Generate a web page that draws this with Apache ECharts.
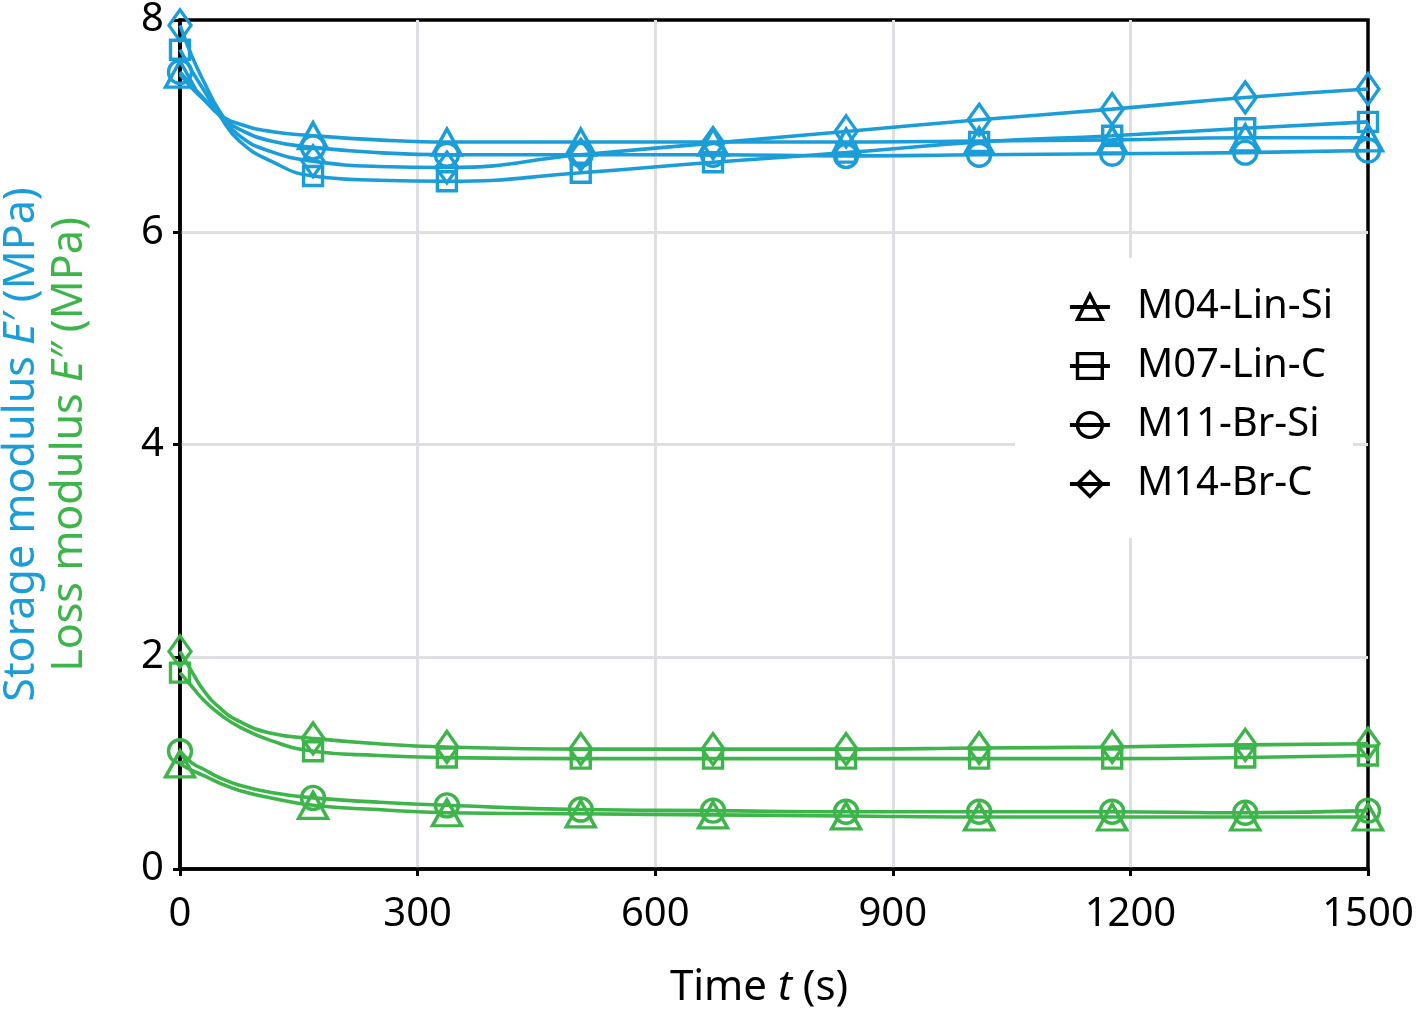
<!DOCTYPE html>
<html>
<head>
<meta charset="utf-8">
<script src="https://cdn.jsdelivr.net/npm/echarts@6/dist/echarts.min.js"></script>
<style>
html,body{margin:0;padding:0;background:#fff;}
#chart{width:1416px;height:1015px;}
</style>
</head>
<body>
<div id="chart"></div>
<script>
// ---- data ----
const markerTimes = [0, 168, 337, 506, 673, 841, 1009, 1177, 1345, 1500];
const curveTimes = [15, 30, 50, 75, 115, 250];
const xTicks = [0, 300, 600, 900, 1200, 1500];
const yTicks = [0, 2, 4, 6, 8];
const seriesNames = ['M04-Lin-Si', 'M07-Lin-C', 'M11-Br-Si', 'M14-Br-C'];

// storage modulus E' (MPa)
const storageM04 = [7.49, 6.91, 6.85, 6.85, 6.85, 6.85, 6.86, 6.87, 6.89, 6.89];
const storageM07 = [7.72, 6.53, 6.48, 6.56, 6.66, 6.75, 6.85, 6.91, 6.98, 7.04];
const storageM11 = [7.51, 6.80, 6.73, 6.73, 6.73, 6.72, 6.73, 6.74, 6.75, 6.77];
const storageM14 = [7.95, 6.67, 6.61, 6.73, 6.84, 6.95, 7.06, 7.16, 7.27, 7.35];
const storageM04Curve = [7.36, 7.25, 7.11, 7.02, 6.95, 6.87];
const storageM07Curve = [7.52, 7.34, 7.10, 6.86, 6.67, 6.49];
const storageM11Curve = [7.38, 7.26, 7.10, 6.97, 6.86, 6.75];
const storageM14Curve = [7.66, 7.42, 7.14, 6.91, 6.76, 6.62];

// loss modulus E" (MPa)
const lossM04 = [0.99, 0.60, 0.53, 0.52, 0.51, 0.50, 0.49, 0.49, 0.49, 0.49];
const lossM07 = [1.85, 1.11, 1.05, 1.04, 1.04, 1.04, 1.04, 1.04, 1.05, 1.07];
const lossM11 = [1.11, 0.67, 0.60, 0.56, 0.55, 0.54, 0.54, 0.54, 0.53, 0.55];
const lossM14 = [2.05, 1.23, 1.15, 1.13, 1.13, 1.13, 1.14, 1.15, 1.17, 1.18];
const lossM04Curve = [0.93, 0.88, 0.81, 0.74, 0.67, 0.56];
const lossM07Curve = [1.72, 1.59, 1.46, 1.34, 1.21, 1.07];
const lossM11Curve = [1.00, 0.94, 0.86, 0.79, 0.72, 0.63];
const lossM14Curve = [1.86, 1.68, 1.52, 1.39, 1.28, 1.18];

// ---- styling ----
const BLUE = '#1b9dd9';
const GREEN = '#3db54a';
const FONT = 'Noto Sans';
const symbols = {
  'M04-Lin-Si': {symbol: 'triangle', size: [29, 26]},
  'M07-Lin-C': {symbol: 'rect', size: [19, 19]},
  'M11-Br-Si': {symbol: 'circle', size: 23},
  'M14-Br-C': {symbol: 'diamond', size: [22, 31]}
};

function buildData(markerVals, curveVals) {
  const pts = markerTimes.map((t, i) => ({value: [t, markerVals[i]]}));
  curveTimes.forEach((t, i) => pts.push({value: [t, curveVals[i]], symbol: 'none'}));
  pts.sort((a, b) => a.value[0] - b.value[0]);
  return pts;
}

function mkSeries(name, color, markers, curve) {
  const s = symbols[name];
  return {
    type: 'line',
    name: name,
    data: buildData(markers, curve),
    smooth: 0.5,
    showAllSymbol: true,
    symbol: s.symbol,
    symbolSize: s.size,
    lineStyle: {color: color, width: 3.6},
    itemStyle: {color: 'rgba(0,0,0,0)', borderColor: color, borderWidth: 3.4},
    emphasis: {disabled: true},
    z: 3
  };
}

const series = [
  mkSeries('M04-Lin-Si', BLUE, storageM04, storageM04Curve),
  mkSeries('M07-Lin-C', BLUE, storageM07, storageM07Curve),
  mkSeries('M11-Br-Si', BLUE, storageM11, storageM11Curve),
  mkSeries('M14-Br-C', BLUE, storageM14, storageM14Curve),
  mkSeries('M04-Lin-Si', GREEN, lossM04, lossM04Curve),
  mkSeries('M07-Lin-C', GREEN, lossM07, lossM07Curve),
  mkSeries('M11-Br-Si', GREEN, lossM11, lossM11Curve),
  mkSeries('M14-Br-C', GREEN, lossM14, lossM14Curve)
];

const chart = echarts.init(document.getElementById('chart'), null, {renderer: 'canvas'});
chart.setOption({
  animation: false,
  backgroundColor: '#fff',
  textStyle: {fontFamily: FONT},
  grid: {left: 180, right: 48, top: 20, bottom: 146, containLabel: false, outerBoundsMode: 'none',
         show: true, borderColor: '#000', borderWidth: 3.5, backgroundColor: 'transparent'},
  legend: {
    orient: 'vertical',
    left: 1015,
    top: 258,
    padding: [29, 20, 34, 53],
    backgroundColor: '#fff',
    itemWidth: 40,
    itemHeight: 31,
    itemGap: 19,
    selectedMode: false,
    textStyle: {fontFamily: FONT, fontSize: 40, color: '#000', lineHeight: 40, padding: [0, 0, 0, 22]},
    data: seriesNames.map(n => ({
      name: n,
      itemStyle: {color: 'rgba(0,0,0,0)', borderColor: '#000', borderWidth: 3.4},
      lineStyle: {color: '#000', width: 3.8}
    }))
  },
  xAxis: {
    type: 'value',
    min: xTicks[0],
    max: xTicks[xTicks.length - 1],
    interval: 300,
    name: '{n|Time }{i|t}{n| (s)}',
    nameLocation: 'middle',
    nameGap: 98,
    nameTextStyle: {
      padding: [0, 30, 0, 0],
      rich: {
        n: {fontFamily: FONT, fontSize: 42, color: '#000'},
        i: {fontFamily: FONT, fontSize: 42, color: '#000', fontStyle: 'italic'}
      }
    },
    axisLine: {show: true, lineStyle: {color: '#000', width: 3.5}},
    axisTick: {show: true, inside: false, length: 7, lineStyle: {color: '#000', width: 3}},
    axisLabel: {fontFamily: FONT, fontSize: 40, color: '#000', margin: 26, formatter: v => String(v)},
    splitLine: {show: true, showMinLine: false, showMaxLine: false, lineStyle: {color: '#dfdfe3', width: 3}}
  },
  yAxis: {
    type: 'value',
    min: yTicks[0],
    max: yTicks[yTicks.length - 1],
    interval: 2,
    name: '{b|Storage modulus }{bi|E′}{b| (MPa)}\n{g|Loss modulus }{gi|E″}{g| (MPa)}',
    nameLocation: 'middle',
    nameGap: 86,
    nameTextStyle: {
      lineHeight: 48,
      rich: {
        b: {fontFamily: FONT, fontSize: 43, color: BLUE, lineHeight: 48},
        bi: {fontFamily: FONT, fontSize: 43, color: BLUE, fontStyle: 'italic', lineHeight: 48},
        g: {fontFamily: FONT, fontSize: 43, color: GREEN, lineHeight: 48},
        gi: {fontFamily: FONT, fontSize: 43, color: GREEN, fontStyle: 'italic', lineHeight: 48}
      }
    },
    axisLine: {show: true, lineStyle: {color: '#000', width: 3.5}},
    axisTick: {show: true, inside: false, length: 7, lineStyle: {color: '#000', width: 3}},
    axisLabel: {fontFamily: FONT, fontSize: 40, color: '#000', margin: 16, formatter: v => String(v)},
    splitLine: {show: true, showMinLine: false, showMaxLine: false, lineStyle: {color: '#dfdfe3', width: 3}}
  },
  series: series
});
</script>
</body>
</html>
